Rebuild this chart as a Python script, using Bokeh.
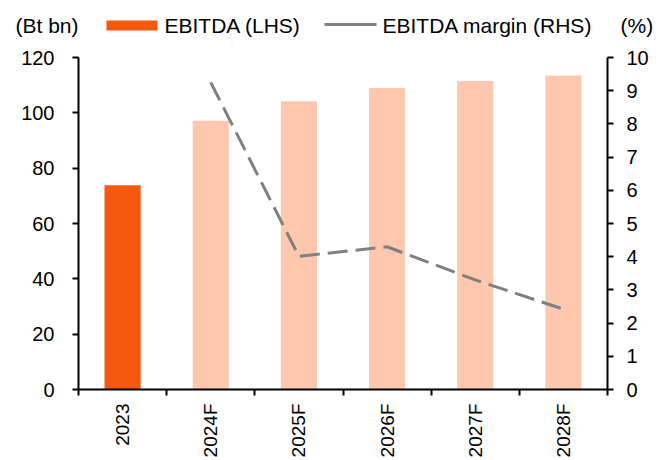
import math
from bokeh.plotting import figure
from bokeh.models import Range1d, LinearAxis, FixedTicker
from bokeh.layouts import column
from bokeh.core.properties import value
from bokeh.embed import file_html
from bokeh.resources import INLINE

# ---- data ----
years = ["2023", "2024F", "2025F", "2026F", "2027F", "2028F"]
ebitda = [73.8, 97.1, 104.2, 109.0, 111.5, 113.5]          # Bt bn (LHS)
margin_years = ["2024F", "2025F", "2026F", "2027F", "2028F"]
ebitda_margin = [9.25, 4.01, 4.30, 3.30, 2.42]              # % (RHS)
left_ticks = [0, 20, 40, 60, 80, 100, 120]
right_ticks = [0, 1, 2, 3, 4, 5, 6, 7, 8, 9, 10]
series_names = ["EBITDA (LHS)", "EBITDA margin (RHS)"]
left_unit = "(Bt bn)"
right_unit = "(%)"

DARK = "#F5580F"
LIGHT = "#FEC8AE"
GREY = "#808080"
FONT = "Liberation Sans"
W = 670
LEG_H = 45
MAIN_H = 415

# ---------------- legend strip (pixel coordinates) ----------------
leg = figure(width=W, height=LEG_H, output_backend="svg", toolbar_location=None,
             x_range=Range1d(0, W), y_range=Range1d(LEG_H, 0),
             x_axis_type=None, y_axis_type=None,
             min_border=0, min_border_left=0, min_border_right=0,
             min_border_top=0, min_border_bottom=0)
leg.frame_align = False
leg.outline_line_color = None
leg.grid.visible = False

LY = 25
txt = dict(text_font=value(FONT), text_font_size="21px", text_color="black",
           text_baseline="middle", text_align="left")
leg.text(x=[15], y=[LY], text=[left_unit], **txt)
leg.quad(left=[106], right=[157], top=[LY - 5], bottom=[LY + 5],
         fill_color=DARK, line_color=None)
leg.text(x=[164], y=[LY], text=[series_names[0]], **txt)
leg.segment(x0=[324], y0=[LY - 1], x1=[376], y1=[LY - 1], line_color=GREY,
            line_width=3)
leg.text(x=[382], y=[LY], text=[series_names[1]], **txt)
leg.text(x=[620], y=[LY], text=[right_unit], **txt)

# ---------------- main chart ----------------
pos = {y: i + 1 for i, y in enumerate(years)}
xs = [pos[y] for y in years]
bar_colors = [LIGHT if y.endswith("F") else DARK for y in years]
mx = [pos[y] for y in margin_years]

p = figure(width=W, height=MAIN_H, output_backend="svg", toolbar_location=None,
           x_range=Range1d(0.5, len(years) + 0.5),
           y_range=Range1d(left_ticks[0], left_ticks[-1]),
           min_border_left=78, min_border_right=63, min_border_top=12,
           min_border_bottom=68)
p.frame_align = False
p.extra_y_ranges = {"pct": Range1d(right_ticks[0], right_ticks[-1])}
p.outline_line_color = None
p.grid.visible = False

p.vbar(x=xs, top=ebitda, width=0.41, fill_color=bar_colors, line_color=None)
p.line(x=mx, y=ebitda_margin, y_range_name="pct", line_color=GREY,
       line_width=3, line_dash="20 8")

# x axis
xa = p.xaxis[0]
xa.ticker = FixedTicker(ticks=xs, minor_ticks=[x - 0.5 for x in xs] + [xs[-1] + 0.5])
xa.major_label_overrides = {x: y for x, y in zip(xs, years)}
xa.major_label_orientation = math.pi / 2
xa.major_tick_out = 0
xa.major_tick_in = 0
xa.minor_tick_out = 6
xa.minor_tick_in = 0
xa.minor_tick_line_color = "black"
xa.minor_tick_line_width = 2
xa.axis_line_width = 2
xa.axis_line_color = "black"
xa.major_label_standoff = 8
xa.major_label_text_font = FONT
xa.major_label_text_font_size = "19px"
xa.major_label_text_color = "black"

# left axis
ya = p.yaxis[0]
ya.ticker = FixedTicker(ticks=left_ticks)
ya.major_tick_out = 6
ya.major_tick_in = 0
ya.minor_tick_out = 0
ya.minor_tick_in = 0
ya.major_tick_line_width = 2
ya.axis_line_width = 2
ya.axis_line_color = "black"
ya.major_tick_line_color = "black"
ya.major_label_standoff = 18
ya.major_label_text_font = FONT
ya.major_label_text_font_size = "20px"
ya.major_label_text_color = "black"

# right axis
ra = LinearAxis(y_range_name="pct", ticker=FixedTicker(ticks=right_ticks))
ra.major_tick_out = 6
ra.major_tick_in = 0
ra.minor_tick_out = 0
ra.minor_tick_in = 0
ra.major_tick_line_width = 2
ra.axis_line_width = 2
ra.axis_line_color = "black"
ra.major_tick_line_color = "black"
ra.major_label_standoff = 13
ra.major_label_text_font = FONT
ra.major_label_text_font_size = "20px"
ra.major_label_text_color = "black"
p.add_layout(ra, "right")

layout = column(leg, p, spacing=0)
open("out.html", "w").write(file_html(layout, INLINE))
